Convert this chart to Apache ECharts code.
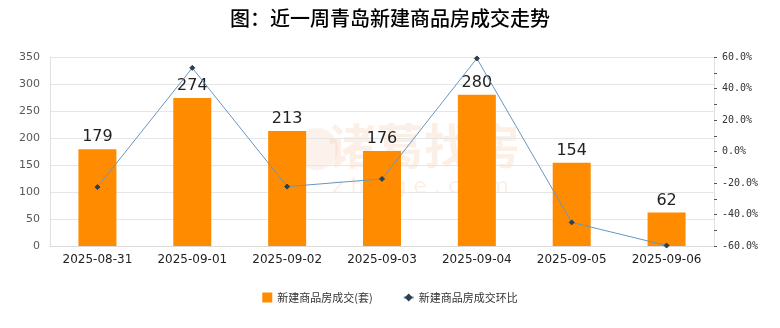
<!DOCTYPE html>
<html><head><meta charset="utf-8">
<script src="https://cdn.jsdelivr.net/npm/echarts@6/dist/echarts.min.js"></script>
<style>html,body{margin:0;padding:0;background:#fff}#c{width:780px;height:328px}</style>
</head><body><div id="c"></div>
<script>
const categories = ['2025-08-31','2025-09-01','2025-09-02','2025-09-03','2025-09-04','2025-09-05','2025-09-06'];
const deals = [179, 274, 213, 176, 280, 154, 62];
const ratio = [-22.6, 53.1, -22.3, -17.4, 59.1, -45.0, -59.7];
const leftTicks = [0, 350, 50];
const rightTicks = [-60, 60, 20];

const chart = echarts.init(document.getElementById('c'));
chart.setOption({
  backgroundColor: '#fff',
  animation: false,
  title: {
    text: '图：近一周青岛新建商品房成交走势', left: 'center', top: 3,
    textStyle: {fontFamily: 'Noto Sans CJK SC', fontSize: 20, fontWeight: 500, color: '#000'}
  },
  graphic: [{
    type: 'circle', left: 296, top: 128, z: -1,
    shape: {r: 21}, style: {fill: 'rgba(240,175,130,0.16)'}
  },{
    type: 'text', left: 328, top: 122, z: -1,
    style: {text: '诸葛找房', fontFamily: 'Noto Sans CJK SC', fontSize: 48, fontWeight: 'bold', fill: 'rgba(240,175,130,0.2)'}
  },{
    type: 'text', left: 332, top: 176, z: -1,
    style: {text: 'z h u g e . c o m', fontFamily: 'DejaVu Sans', fontSize: 22, fill: 'rgba(240,175,130,0.2)'}
  }],
  legend: {
    bottom: 20, left: 'center', itemGap: 30, itemWidth: 10, itemHeight: 10,
    textStyle: {fontFamily: 'Noto Sans CJK SC', fontSize: 11, color: '#333'},
    data: [{name: '新建商品房成交(套)', icon: 'rect'}, {name: '新建商品房成交环比'}]
  },
  grid: {left: 50, right: 66, top: 57, bottom: 82},
  xAxis: {
    type: 'category', data: categories,
    axisLine: {lineStyle: {color: '#d9d9d9'}}, axisTick: {show: false},
    axisLabel: {fontFamily: 'DejaVu Sans', fontSize: 12, color: '#222', margin: 8}
  },
  yAxis: [{
    type: 'value', min: leftTicks[0], max: leftTicks[1], interval: leftTicks[2],
    axisLine: {show: true, lineStyle: {color: '#e0e0e0'}}, axisTick: {show: false},
    splitLine: {lineStyle: {color: '#e6e6e6'}},
    axisLabel: {fontFamily: 'DejaVu Sans', fontSize: 11, color: '#595959', margin: 10}
  },{
    type: 'value', min: rightTicks[0], max: rightTicks[1], interval: rightTicks[2],
    axisLine: {show: true, lineStyle: {color: '#e0e0e0'}},
    axisTick: {show: true, length: 3, lineStyle: {color: '#555'}},
    minorTick: {show: true, splitNumber: 2, length: 3, lineStyle: {color: '#555'}},
    splitLine: {show: false},
    axisLabel: {fontFamily: 'DejaVu Sans Mono', fontSize: 10, color: '#333', margin: 8,
      formatter: v => v.toFixed(1) + '%'}
  }],
  series: [{
    name: '新建商品房成交(套)', type: 'bar', data: deals, barWidth: 38,
    itemStyle: {color: '#ff8c00'}, z: 2,
    label: {show: true, position: 'top', fontFamily: 'DejaVu Sans', fontSize: 16, color: '#222', distance: 4}
  },{
    name: '新建商品房成交环比', type: 'line', yAxisIndex: 1, data: ratio, z: 3,
    symbol: 'diamond', symbolSize: 5,
    lineStyle: {color: '#6b95bf', width: 1},
    itemStyle: {color: '#2f3f4f', borderColor: '#2f3f4f'}
  }]
});
</script></body></html>
